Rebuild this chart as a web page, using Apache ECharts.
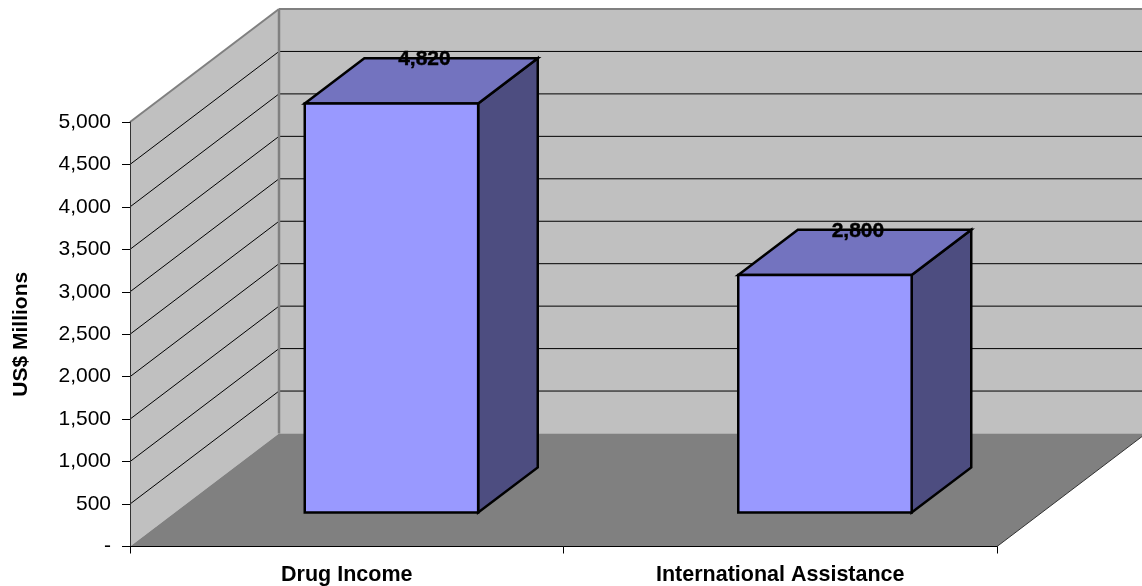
<!DOCTYPE html>
<html>
<head>
<meta charset="utf-8">
<style>html,body{margin:0;padding:0;background:#fff}#c{width:1142px;height:586px}</style>
<script src="https://cdn.jsdelivr.net/npm/echarts@6/dist/echarts.min.js"></script>
</head>
<body>
<div id="c"></div>
<script>
var categories = ['Drug Income', 'International Assistance'];
var values = [4820, 2800];
var valueTicks = [0, 500, 1000, 1500, 2000, 2500, 3000, 3500, 4000, 4500, 5000];

var DX = 149, DY = 113;
var FONT = '"Liberation Sans", Arial, sans-serif';

function fmt(v) {
  return v === 0 ? '-' : String(v).replace(/\B(?=(\d{3})+$)/g, ',');
}

function renderWalls(params, api) {
  var band = api.size([1, 0])[0];
  var c0 = api.coord([0, 0]);
  var x0 = c0[0] - band / 2;
  var x1 = x0 + band * categories.length;
  var yB = c0[1];
  var yT = api.coord([0, valueTicks[valueTicks.length - 1]])[1];
  var kids = [];
  function poly(pts, fill) {
    kids.push({ type: 'polygon', shape: { points: pts }, style: { fill: fill, stroke: null } });
  }
  function line(a, b, color, w) {
    kids.push({ type: 'line', shape: { x1: a[0], y1: a[1], x2: b[0], y2: b[1] },
      style: { stroke: color, lineWidth: w, fill: null } });
  }
  poly([[x0, yB], [x0, yT], [x0 + DX, yT - DY], [x0 + DX, yB - DY]], '#c0c0c0');
  poly([[x0 + DX, yB - DY], [x0 + DX, yT - DY], [x1 + DX, yT - DY], [x1 + DX, yB - DY]], '#c0c0c0');
  poly([[x0, yB], [x0 + DX, yB - DY], [x1 + DX, yB - DY], [x1, yB]], '#808080');
  valueTicks.forEach(function (t) {
    if (t === 0 || t === valueTicks[valueTicks.length - 1]) return;
    var y = api.coord([0, t])[1];
    line([x0, y], [x0 + DX, y - DY], '#000', 1);
    line([x0 + DX, y - DY], [x1 + DX, y - DY], '#000', 1);
  });
  line([x0, yT], [x0 + DX, yT - DY], '#808080', 2);
  line([x0 + DX, yT - DY], [x1 + DX, yT - DY], '#808080', 2);
  line([x0 + DX, yT - DY], [x0 + DX, yB - DY], '#808080', 2.5);
  line([x1, yB], [x1 + DX, yB - DY], '#333', 1);
  return { type: 'group', children: kids };
}

function renderBar(params, api) {
  var idx = api.value(0), val = api.value(1);
  var band = api.size([1, 0])[0];
  var w = band * 0.4;
  var base = api.coord([idx, 0]);
  var top = api.coord([idx, val]);
  var ox = DX * 0.3, oy = DY * 0.3;
  var dx = DX * 0.4, dy = DY * 0.4;
  var l = base[0] - w / 2 + ox, r = l + w;
  var b = base[1] - oy, t = top[1] - oy;
  function face(pts, fill) {
    return { type: 'polygon', shape: { points: pts },
      style: { fill: fill, stroke: '#000', lineWidth: 2.5, lineJoin: 'miter' } };
  }
  return { type: 'group', children: [
    face([[r, t], [r + dx, t - dy], [r + dx, b - dy], [r, b]], '#4d4d80'),
    face([[l, t], [l + dx, t - dy], [r + dx, t - dy], [r, t]], '#7373bf'),
    face([[l, t], [r, t], [r, b], [l, b]], '#9999ff'),
    { type: 'text', z2: 10, style: {
        x: (l + r) / 2 + 33, y: t - dy + 1.5, text: fmt(val), fill: '#000',
        stroke: '#000', lineWidth: 0.4,
        font: 'bold 21px ' + FONT, align: 'center', verticalAlign: 'middle' } }
  ] };
}

var chart = echarts.init(document.getElementById('c'), null, { renderer: 'canvas' });
chart.setOption({
  animation: false,
  backgroundColor: '#fff',
  grid: { left: 130, right: 145, top: 122, bottom: 39.5, containLabel: false, outerBoundsMode: 'none' },
  xAxis: {
    type: 'category', data: categories, z: 1,
    axisLine: { show: true, lineStyle: { color: '#000', width: 1 } },
    axisTick: { show: true, length: 7, alignWithLabel: false, lineStyle: { color: '#000', width: 1 } },
    axisLabel: { color: '#000', fontFamily: FONT, fontWeight: 'bold', fontSize: 21.5, margin: 18, interval: 0 }
  },
  yAxis: {
    type: 'value', min: 0, max: 5000, interval: 500, z: 1,
    name: 'US$ Millions', nameLocation: 'middle', nameGap: 98,
    nameTextStyle: { color: '#000', fontFamily: FONT, fontWeight: 'bold', fontSize: 21 },
    axisLine: { show: true, lineStyle: { color: '#333', width: 1 } },
    axisTick: { show: true, length: 8, lineStyle: { color: '#000', width: 1 } },
    axisLabel: { color: '#000', fontFamily: FONT, fontSize: 21, margin: 19, formatter: fmt },
    splitLine: { show: false }
  },
  series: [
    { type: 'custom', z: 0, clip: false, silent: true, renderItem: renderWalls, data: [[0, 0]],
      encode: { x: 0, y: 1 } },
    { type: 'custom', z: 2, clip: false, silent: true, renderItem: renderBar,
      data: values.map(function (v, i) { return [i, v]; }), encode: { x: 0, y: 1 } }
  ]
});
</script>
</body>
</html>
